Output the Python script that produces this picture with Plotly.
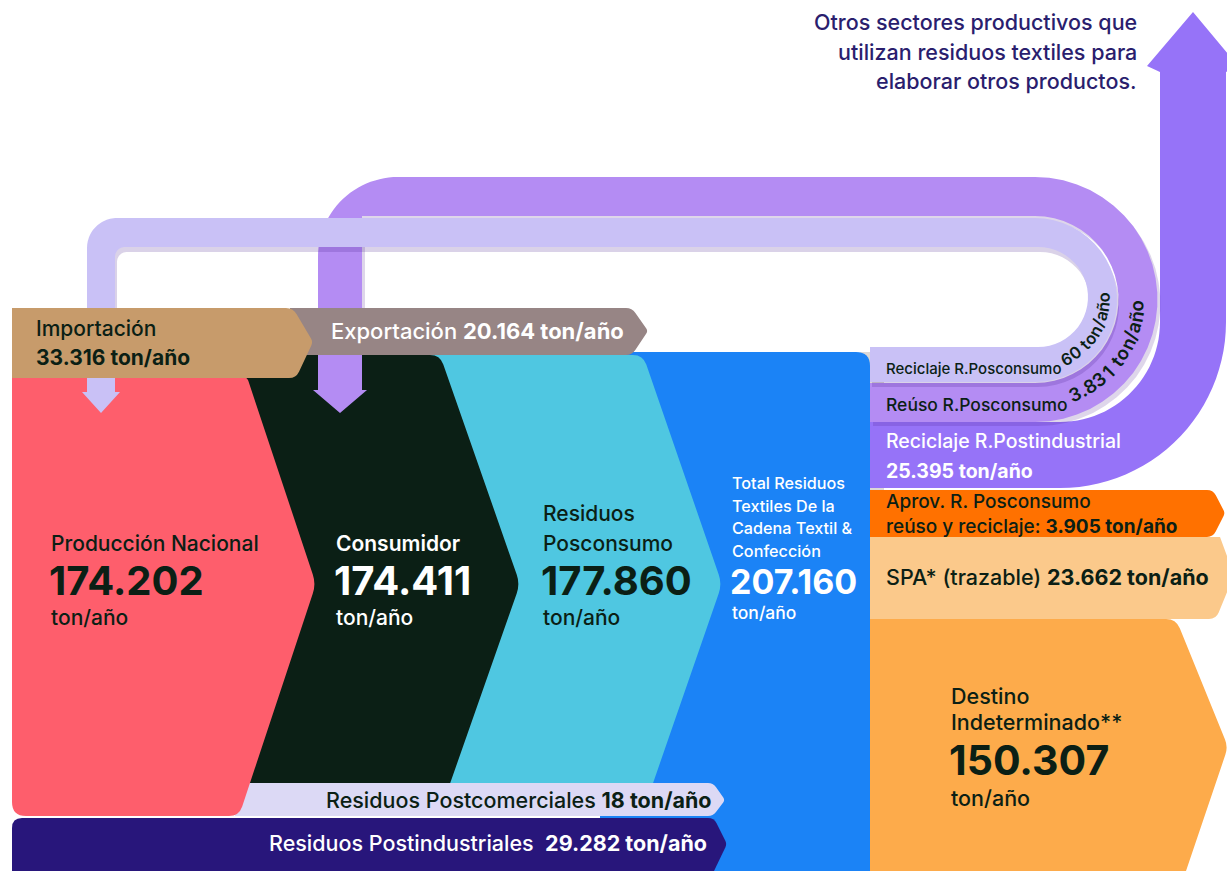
import numpy as np
import plotly.graph_objects as go

W, H = 1227, 871

# ---------------- data ----------------
stage_labels = ["Producción Nacional", "Consumidor", "Residuos Posconsumo",
                "Total Residuos Textiles De la Cadena Textil & Confección"]
stage_values = [174202, 174411, 177860, 207160]
input_labels = ["Importación", "Exportación", "Residuos Postcomerciales", "Residuos Postindustriales"]
input_values = [33316, 20164, 18, 29282]
dest_labels = ["Reciclaje R.Posconsumo", "Reúso R.Posconsumo", "Reciclaje R.Postindustrial",
               "Aprov. R. Posconsumo", "SPA* (trazable)", "Destino Indeterminado**"]
dest_values = [60, 3831, 25395, 3905, 23662, 150307]
unit = "ton/año"
note_lines = ["Otros sectores productivos que", "utilizan residuos textiles para",
              "elaborar otros productos."]


def fmt(v):
    return f"{v:,}".replace(",", ".")


# ---------------- geometry helpers ----------------
def arc(cx, cy, r, a0, a1, n=28):
    t = np.radians(np.linspace(a0, a1, n))
    return [(cx + r * np.cos(a), cy + r * np.sin(a)) for a in t]


def poly(pts):
    return "M " + " L ".join(f"{x:.1f},{y:.1f}" for x, y in pts) + " Z"


def rpoly(verts, radii):
    n = len(verts)
    s = ""
    for i in range(n):
        p0 = np.array(verts[i - 1], float)
        p1 = np.array(verts[i], float)
        p2 = np.array(verts[(i + 1) % n], float)
        r = radii[i]
        cmd = "M " if i == 0 else " L "
        if r <= 0:
            s += cmd + f"{p1[0]:.1f},{p1[1]:.1f}"
            continue
        d0, d2 = p0 - p1, p2 - p1
        l0, l2 = np.linalg.norm(d0), np.linalg.norm(d2)
        a = p1 + d0 / l0 * min(r, l0 / 2)
        b = p1 + d2 / l2 * min(r, l2 / 2)
        s += cmd + f"{a[0]:.1f},{a[1]:.1f}"
        s += f" Q {p1[0]:.1f},{p1[1]:.1f} {b[0]:.1f},{b[1]:.1f}"
    return s + " Z"


shapes = []


def add(path, color):
    shapes.append(dict(type="path", path=path, fillcolor=color,
                       line=dict(width=0), xref="x", yref="y", layer="above"))


# colours
C_RED = "#FE5E6C"
C_DARK = "#0B1F15"
C_CYAN = "#4FC7E1"
C_BLUE = "#1B83F6"
C_TAN = "#C79B6B"
C_TAUPE = "#978585"
C_LAV = "#C9C1F6"
C_MPUR = "#B48CF3"
C_DPUR = "#9673F8"
C_ORANGE = "#FF7100"
C_PEACH = "#FBC98B"
C_LORANGE = "#FDAB4B"
C_PCOM = "#DCD9F5"
C_PIND = "#28167B"
C_NAVY = "#2A1E6E"

# ---------------- shapes (back to front) ----------------
add(rpoly([(860, 352), (884, 352), (884, 871), (860, 871)], [0, 14, 0, 0]), "rgba(60,40,30,0.18)")

# big purple U arrow (outermost)
dp = [(870, 488), (1060, 488)] + arc(1060, 322, 166, 90, 0) + \
     [(1226, 72), (1238, 66), (1193, 12), (1147, 66), (1160, 72)] + \
     arc(1060, 322, 100, 0, 90) + [(870, 422)]
add(poly(dp), C_DPUR)

# right stack
add(rpoly([(860, 619), (1176, 619), (1228, 747), (1186, 871), (860, 871)], [0, 10, 8, 0, 0]), C_LORANGE)
add(rpoly([(860, 537), (1220, 537), (1234, 575), (1216, 619), (860, 619)], [0, 0, 6, 7, 0]), C_PEACH)
add(rpoly([(860, 490), (1213, 490), (1225, 513), (1213, 537), (860, 537)], [0, 6, 3, 6, 0]), C_ORANGE)

# medium purple loop
mp = [(318, 392), (318, 257)] + arc(398, 257, 80, 180, 270) + [(1035, 177)] + \
     arc(1035, 299.5, 122.5, -90, 90) + [(870, 422), (870, 383), (1035, 383)] + \
     arc(1035, 299.5, 83.5, 90, -90) + [(362, 216), (362, 392)]
add(poly([(x + 3, y + 4) for x, y in mp]), "rgba(70,30,140,0.18)")
add(poly(mp), C_MPUR)

# lightest loop
lp = [(87, 392), (87, 248)] + arc(117, 248, 30, 180, 270) + [(1035, 218)] + \
     arc(1035, 300, 82, -90, 90) + [(870, 382), (870, 347), (1038, 347)] + \
     arc(1038, 297, 50, 90, -90) + [(125, 247)] + arc(125, 257, 10, 270, 180) + [(115, 392)]
add(poly([(x + 2, y + 5) for x, y in lp]), "rgba(70,30,140,0.20)")
add(poly(lp), C_LAV)

# main panels
add(rpoly([(600, 352), (870, 352), (870, 871), (600, 871)], [0, 14, 0, 0]), C_BLUE)
add(rpoly([(430, 355), (643, 355), (722, 584), (642, 815), (430, 815)], [0, 10, 10, 0, 0]), C_CYAN)
add(rpoly([(230, 355), (440, 355), (520, 584), (439, 815), (230, 815)], [0, 10, 10, 0, 0]), C_DARK)
add(rpoly([(235, 783), (713, 783), (725, 800), (713, 816), (235, 816)], [0, 5, 3, 5, 0]), C_PCOM)
add(rpoly([(12, 377), (247, 377), (316, 584), (239, 816), (12, 816)], [0, 4, 10, 10, 14]), C_RED)
add(rpoly([(12, 818), (714, 818), (727, 844), (714, 871), (12, 871)], [10, 6, 4, 0, 0]), C_PIND)

# arrow shafts/heads over panels
add(poly([(87, 377), (115, 377), (115, 392), (120, 392), (101, 413), (82, 392), (87, 392)]), C_LAV)
add(poly([(318, 355), (362, 355), (362, 390), (367, 390), (340, 413), (313, 390), (318, 390)]), C_MPUR)

# top labels
add(rpoly([(290, 308), (632, 308), (648, 331), (632, 355), (290, 355)], [0, 6, 3, 6, 0]), C_TAUPE)
add(rpoly([(12, 308), (293, 308), (313, 342), (296, 378), (12, 378)], [0, 7, 4, 7, 0]), C_TAN)

# ---------------- text ----------------
FONT = "Inter, Roboto, sans-serif"
ann = []


def text(x, y, s, size, color, anchor="left", angle=0, weight=500):
    ann.append(dict(x=x, y=y, text=s, showarrow=False, xref="x", yref="y",
                    xanchor=anchor, yanchor="middle", textangle=angle, borderpad=0,
                    font=dict(family=FONT, size=size, color=color, weight=weight)))


CW = {".": 0.28, " ": 0.28, "t": 0.36, "/": 0.38, "n": 0.6, "o": 0.6, "a": 0.56, "ñ": 0.6}


def arc_text(s, cx, cy, r, start_deg, size, color):
    """Place characters along a circular arc, reading with decreasing angle."""
    th = np.radians(start_deg)
    for ch in s:
        w = CW.get(ch, 0.62) * size
        mid = th - (w / 2) / r
        x = cx + r * np.cos(mid)
        y = cy + r * np.sin(mid)
        if ch != " ":
            text(x, y, ch, size, color, anchor="center", angle=np.degrees(mid) - 90, weight=600)
        th -= w / r


u = unit
for i, line in enumerate(note_lines):
    text(1138, 22 + 29.5 * i, line, 21.5, C_NAVY, anchor="right")

text(35, 328, input_labels[0], 21, C_DARK)
text(35, 357, f"<b>{fmt(input_values[0])} {u}</b>", 21, C_DARK)
text(330, 331, f"{input_labels[1]} <b>{fmt(input_values[1])} {u}</b>", 22, "white")

text(50, 543, stage_labels[0], 21, C_DARK)
text(48, 580, f"<b>{fmt(stage_values[0])}</b>", 40, C_DARK)
text(50, 617, u, 21, C_DARK)

text(335, 543, stage_labels[1], 21, "white", weight=600)
text(333, 580, f"<b>{fmt(stage_values[1])}</b>", 40, "white")
text(335, 617, u, 21, "white")

w = stage_labels[2].split(" ")
text(542, 513, w[0], 21, C_DARK)
text(542, 543, w[1], 21, C_DARK)
text(540, 580, f"<b>{fmt(stage_values[2])}</b>", 40, C_DARK)
text(542, 617, u, 21, C_DARK)

blue_lines = ["Total Residuos", "Textiles De la", "Cadena Textil &", "Confección"]
for i, line in enumerate(blue_lines):
    text(731, 483 + 22.6 * i, line, 16.2, "white")
text(729, 581, f"<b>{fmt(stage_values[3])}</b>", 34, "white")
text(731, 612, u, 17.5, "white")

# destinations (arcs)
text(885, 368, dest_labels[0], 15, C_DARK)
arc_text(f"{fmt(dest_values[0])} {u}", 1036.5, 298.5, 67, 68, 16.5, C_DARK)
text(885, 404, dest_labels[1], 17.5, C_DARK)
arc_text(f"{fmt(dest_values[1])} {u}", 1035, 300, 102, 70, 18.5, C_DARK)
text(885, 441, dest_labels[2], 19.5, "white")
text(885, 471, f"<b>{fmt(dest_values[2])} {u}</b>", 19.5, "white")
# right stack
text(885, 501.5, dest_labels[3], 19, C_DARK)
text(885, 526.5, f"reúso y reciclaje: <b>{fmt(dest_values[3])} {u}</b>", 19, C_DARK)
text(885, 577, f"{dest_labels[4]} <b>{fmt(dest_values[4])} {u}</b>", 21.5, C_DARK)
dl = dest_labels[5].split(" ")
text(950, 696, dl[0], 21.5, C_DARK)
text(950, 722, dl[1], 21.5, C_DARK)
text(948, 760, f"<b>{fmt(dest_values[5])}</b>", 41, C_DARK)
text(950, 798, u, 21.5, C_DARK)

# bottom bars
text(713, 800, f"{input_labels[2]} <b>{fmt(input_values[2])} {u}</b>", 21.5, C_DARK, anchor="right")
text(708, 843, f"{input_labels[3]}  <b>{fmt(input_values[3])} {u}</b>", 21.5, "white", anchor="right")

fig = go.Figure()
fig.update_layout(
    width=W, height=H, margin=dict(l=0, r=0, t=0, b=0),
    paper_bgcolor="white", plot_bgcolor="white",
    xaxis=dict(range=[0, W], visible=False, fixedrange=True),
    yaxis=dict(range=[H, 0], visible=False, fixedrange=True),
    shapes=shapes, annotations=ann, showlegend=False,
)
fig.write_html("out.html", config={"displayModeBar": False},
               post_script="document.body.style.margin='0';")
